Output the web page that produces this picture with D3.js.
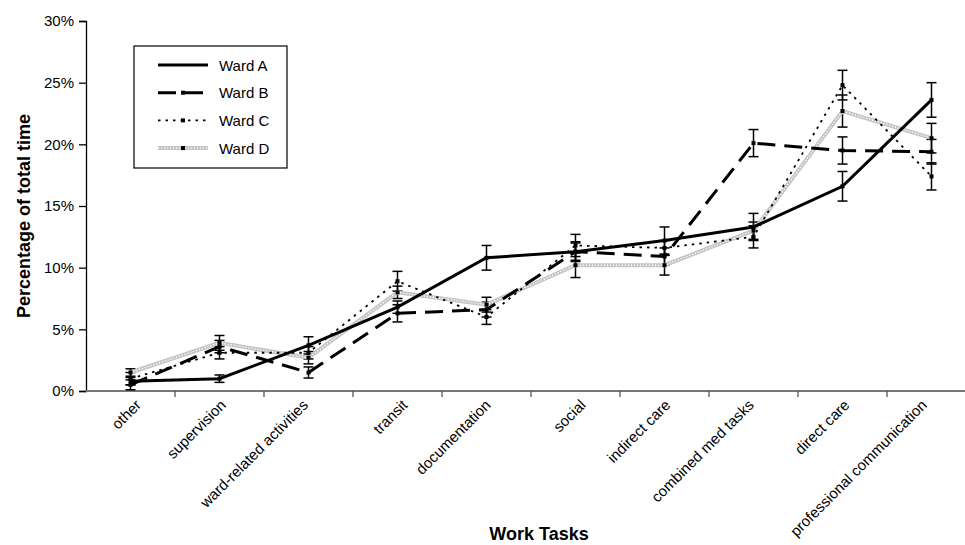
<!DOCTYPE html>
<html>
<head>
<meta charset="utf-8">
<script src="https://cdn.jsdelivr.net/npm/d3@7"></script>
<style>
body { margin: 0; background: #fff; }
svg { font-family: Arial, "Liberation Sans", sans-serif; }
</style>
</head>
<body>
<svg id="chart" width="965" height="545"></svg>
<script>
const width = 965;
const height = 545;

// work task categories (x axis)
const categories = ["other", "supervision", "ward-related activities", "transit", "documentation",
  "social", "indirect care", "combined med tasks", "direct care", "professional communication"];

// percentage of total time per ward
const wardA = [0.8, 1.0, 3.7, 6.8, 10.8, 11.3, 12.2, 13.3, 16.6, 23.6];
const wardB = [0.5, 3.6, 1.5, 6.3, 6.6, 11.3, 10.9, 20.1, 19.5, 19.4];
const wardC = [1.0, 3.1, 3.1, 8.9, 6.0, 11.8, 11.6, 12.5, 24.8, 17.4];
const wardD = [1.5, 3.9, 2.7, 8.0, 7.0, 10.2, 10.2, 13.0, 22.7, 20.5];

// error bar half-widths
const errA = [0.3, 0.3, 0.7, 0.5, 1.0, 0.7, 1.1, 1.1, 1.2, 1.4];
const errB = [0.4, 0.5, 0.45, 0.7, 0.6, 0.8, 0.7, 1.1, 1.1, 1.0];
const errC = [0.5, 0.5, 0.5, 0.8, 0.6, 0.9, 0.6, 0.9, 1.2, 1.1];
const errD = [0.3, 0.6, 0.5, 0.5, 0.6, 1.0, 0.8, 0.7, 1.3, 1.2];

const yTicks = [0, 5, 10, 15, 20, 25, 30];

const svg = d3.select("#chart");

const x = d3.scaleBand().domain(categories).range([86, 976]).padding(0);
const y = d3.scaleLinear().domain([0, 30]).range([391, 21]);
const cx = c => x(c) + x.bandwidth() / 2;

// y axis
const yAxis = svg.append("g").attr("transform", "translate(86,0)")
  .call(d3.axisLeft(y).tickValues(yTicks).tickSize(7).tickFormat(d => d + "%"));
yAxis.select(".domain").attr("stroke", "#000").attr("stroke-width", 1.3);
yAxis.selectAll(".tick line").attr("stroke", "#000").attr("stroke-width", 1.3);
yAxis.selectAll("text").attr("font-size", 15).attr("fill", "#000").attr("x", -12)
  .attr("font-family", "Arial, 'Liberation Sans', sans-serif");

// x axis
const xAxis = svg.append("g").attr("transform", "translate(0,391)");
xAxis.append("line").attr("x1", 86).attr("x2", 976).attr("y1", 0).attr("y2", 0)
  .attr("stroke", "#777").attr("stroke-width", 2);
xAxis.selectAll("line.tk").data(categories.slice(1)).enter().append("line")
  .attr("class", "tk")
  .attr("x1", d => x(d)).attr("x2", d => x(d)).attr("y1", 0).attr("y2", 6)
  .attr("stroke", "#555").attr("stroke-width", 1.3);
xAxis.selectAll("text").data(categories).enter().append("text")
  .attr("text-anchor", "end")
  .attr("font-size", 15)
  .text(d => d)
  .attr("transform", function(d) {
    // longer labels sit further left, as in the original
    const shift = 15 - 0.1 * this.getComputedTextLength();
    return `translate(${cx(d) + shift},15) rotate(-45)`;
  });

// titles
svg.append("text")
  .attr("transform", "translate(30,216) rotate(-90)")
  .attr("text-anchor", "middle").attr("font-size", 18).attr("font-weight", "bold")
  .text("Percentage of total time");
svg.append("text")
  .attr("x", 539).attr("y", 540)
  .attr("text-anchor", "middle").attr("font-size", 18).attr("font-weight", "bold")
  .text("Work Tasks");

const series = [
  { name: "Ward A", vals: wardA, err: errA, stroke: "#000", w: 3, dash: null },
  { name: "Ward B", vals: wardB, err: errB, stroke: "#000", w: 3, dash: "18,9" },
  { name: "Ward C", vals: wardC, err: errC, stroke: "#000", w: 1.8, dash: "2.5,5" },
  { name: "Ward D", vals: wardD, err: errD, stroke: "#c4c4c4", w: 4, dash: null, textured: true }
];

const line = d3.line().x((d, i) => cx(categories[i])).y(d => y(d));

// error bars
series.forEach(s => {
  const g = svg.append("g");
  s.vals.forEach((v, i) => {
    const px = cx(categories[i]);
    const top = y(v + s.err[i]), bot = y(v - s.err[i]);
    g.append("line").attr("x1", px).attr("x2", px).attr("y1", top).attr("y2", bot)
      .attr("stroke", "#000").attr("stroke-width", 1.5);
    [top, bot].forEach(yy => g.append("line").attr("x1", px - 5).attr("x2", px + 5)
      .attr("y1", yy).attr("y2", yy).attr("stroke", "#000").attr("stroke-width", 1.5));
  });
});

// lines
[...series].reverse().forEach(s => {
  svg.append("path").attr("d", line(s.vals)).attr("fill", "none")
    .attr("stroke", s.stroke).attr("stroke-width", s.w)
    .attr("stroke-dasharray", s.dash);
  if (s.textured) {
    svg.append("path").attr("d", line(s.vals)).attr("fill", "none")
      .attr("stroke", "#fff").attr("stroke-width", 1.4)
      .attr("stroke-dasharray", "1.2,1.8");
  }
  svg.selectAll(null).data(s.vals).enter().append("rect")
    .attr("x", (d, i) => cx(categories[i]) - 2).attr("y", d => y(d) - 2)
    .attr("width", 4).attr("height", 4).attr("fill", "#000");
});

// legend
const lg = svg.append("g");
lg.append("rect").attr("x", 134).attr("y", 46).attr("width", 153).attr("height", 122)
  .attr("fill", "#fff").attr("stroke", "#000").attr("stroke-width", 1.2);
series.forEach((s, i) => {
  const ly = 65 + i * 27.7;
  lg.append("line").attr("x1", 158).attr("x2", 208).attr("y1", ly).attr("y2", ly)
    .attr("stroke", s.stroke).attr("stroke-width", s.w).attr("stroke-dasharray", s.dash);
  if (s.textured) {
    lg.append("line").attr("x1", 158).attr("x2", 208).attr("y1", ly).attr("y2", ly)
      .attr("stroke", "#fff").attr("stroke-width", 1.4).attr("stroke-dasharray", "1.2,1.8");
  }
  if (i > 0) {
    lg.append("rect").attr("x", 181).attr("y", ly - 2).attr("width", 4).attr("height", 4).attr("fill", "#000");
  }
  lg.append("text").attr("x", 219).attr("y", ly + 5.5).attr("font-size", 15).text(s.name);
});
</script>
</body>
</html>
